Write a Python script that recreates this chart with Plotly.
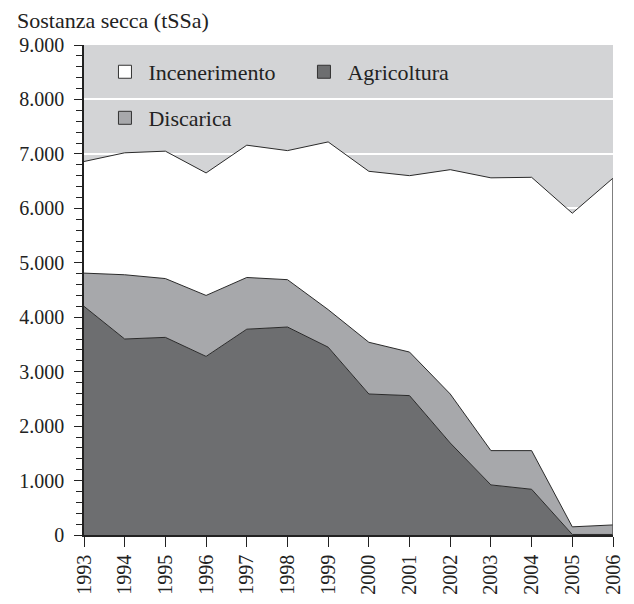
import plotly.graph_objects as go

# data (t SSa per year)
years = [1993, 1994, 1995, 1996, 1997, 1998, 1999, 2000, 2001, 2002, 2003, 2004, 2005, 2006]
agricoltura = [4200, 3600, 3630, 3280, 3780, 3820, 3450, 2590, 2560, 1690, 920, 840, 10, 10]
discarica = [610, 1180, 1080, 1120, 950, 870, 690, 950, 800, 900, 630, 710, 140, 175]
incenerimento = [2050, 2240, 2340, 2250, 2430, 2370, 3080, 3140, 3240, 4120, 5010, 5020, 5760, 6370]

FONT = "Liberation Serif"
DARK = "#6d6e70"
LIGHT = "#a7a8ab"
BG = "#d3d4d6"
EDGE = "#2a2a2a"

fig = go.Figure()

# stacked areas (bottom to top)
for name, vals, col in [("Agricoltura", agricoltura, DARK),
                        ("Discarica", discarica, LIGHT),
                        ("Incenerimento", incenerimento, "white")]:
    fig.add_trace(go.Scatter(
        x=years, y=vals, name=name, stackgroup="one",
        mode="lines", line=dict(color=EDGE, width=1),
        fillcolor=col, showlegend=False, hoverinfo="skip"
    ))

# right closing edge of the stack
total_last = agricoltura[-1] + discarica[-1] + incenerimento[-1]
fig.add_trace(go.Scatter(
    x=[years[-1], years[-1]], y=[0, total_last], mode="lines",
    line=dict(color="#555555", width=1.5), showlegend=False, hoverinfo="skip"
))

# legend entries (square markers)
legend_items = [("Incenerimento", "white", "legend", 1),
                ("Agricoltura", DARK, "legend", 2),
                ("Discarica", LIGHT, "legend2", 3)]
for name, col, lg, rank in legend_items:
    fig.add_trace(go.Scatter(
        x=[None], y=[None], name=name, mode="markers",
        marker=dict(symbol="square", size=13, color=col, line=dict(color="#333333", width=1)),
        legend=lg, legendrank=rank
    ))

# page has an 8px body margin, so the figure is a bit smaller than the window
fig.update_layout(
    width=626, height=596,
    margin=dict(l=76, r=21, t=37, b=69),
    paper_bgcolor="white",
    plot_bgcolor=BG,
    separators=",.",
    font=dict(family=FONT, size=20, color="#222222"),
    legend=dict(orientation="h", x=0.033, y=0.945, xanchor="left", yanchor="middle",
                bgcolor="rgba(0,0,0,0)", entrywidth=147, itemwidth=37, traceorder="normal",
                font=dict(family=FONT, size=22, color="#222222")),
    legend2=dict(orientation="h", x=0.033, y=0.851, xanchor="left", yanchor="middle",
                 bgcolor="rgba(0,0,0,0)", itemwidth=37, traceorder="normal",
                 font=dict(family=FONT, size=22, color="#222222")),
)

fig.add_annotation(
    text="Sostanza secca (tSSa)", xref="paper", yref="paper",
    x=-69 / 529, y=1 + 25 / 490, xanchor="left", yanchor="middle", showarrow=False,
    font=dict(family=FONT, size=22, color="#222222")
)

fig.update_xaxes(
    range=[years[0], years[-1]], tickvals=years, tickangle=-90,
    ticks="outside", ticklen=10, tickcolor="#222222", tickwidth=1,
    showgrid=False, zeroline=False, automargin=False,
    showline=True, linecolor="#222222", linewidth=1.5,
    tickfont=dict(family=FONT, size=20, color="#222222"),
)
fig.update_yaxes(
    range=[0, 9000], tickvals=list(range(0, 9001, 1000)), tickformat=",d",
    ticks="outside", ticklen=8, tickcolor="#222222", tickwidth=1,
    ticklabelstandoff=6, automargin=False,
    minor=dict(dtick=200, ticks="outside", ticklen=6, tickcolor="#222222", showgrid=False),
    showgrid=True, gridcolor="white", gridwidth=1.5,
    zeroline=False, showline=True, linecolor="#222222", linewidth=1.5,
    tickfont=dict(family=FONT, size=20, color="#222222"),
)

fig.write_html("out.html")
